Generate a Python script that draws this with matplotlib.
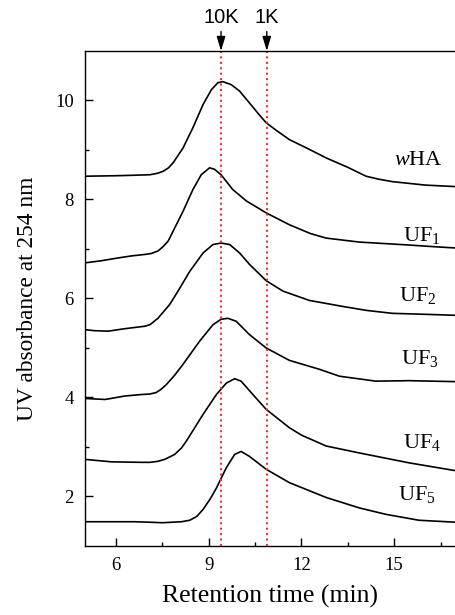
#!/usr/bin/env python3
"""
HPSEC chromatograms of whole humic acid and its ultrafiltration fractions.
"""

import matplotlib

matplotlib.use("Agg")
import matplotlib.pyplot as plt

plt.rcParams["font.family"] = ["Liberation Serif", "DejaVu Serif"]
plt.rcParams["mathtext.fontset"] = "custom"
plt.rcParams["mathtext.rm"] = "Liberation Serif"
plt.rcParams["mathtext.it"] = "Liberation Serif:italic"

# Retention time (min) and stacked UV absorbance
wha_t = [5.0, 6.0, 6.6, 7.1, 7.35, 7.53, 7.7, 7.85, 8.17, 8.49, 8.82, 9.09, 9.30, 9.46, 9.73,
         10.0, 10.32, 10.65, 10.86, 11.18, 11.61, 12.2, 12.8, 13.5, 14.09, 14.5, 14.95, 16.02, 17.0]
wha_a = [8.47, 8.48, 8.49, 8.50, 8.53, 8.57, 8.64, 8.74, 9.04, 9.45, 9.92, 10.22, 10.36, 10.38, 10.32,
         10.19, 9.95, 9.70, 9.55, 9.40, 9.21, 9.03, 8.84, 8.65, 8.47, 8.41, 8.36, 8.29, 8.26]

uf1_t = [5.0, 5.5, 6.08, 6.5, 6.94, 7.15, 7.36, 7.53, 7.69, 7.85, 8.17, 8.49, 8.76, 9.03, 9.19,
         9.40, 9.78, 10.22, 10.86, 11.61, 12.3, 12.8, 13.87, 15.48, 16.45, 17.0]
uf1_a = [6.72, 6.76, 6.82, 6.86, 6.89, 6.91, 6.96, 7.05, 7.16, 7.36, 7.76, 8.20, 8.50, 8.64, 8.61,
         8.50, 8.20, 7.97, 7.73, 7.49, 7.31, 7.22, 7.14, 7.08, 7.04, 7.02]

uf2_t = [5.0, 5.3, 5.75, 6.29, 6.94, 7.1, 7.36, 7.74, 8.01, 8.39, 8.82, 9.14, 9.40, 9.68,
         10.0, 10.32, 10.86, 11.4, 12.26, 12.8, 13.33, 14.1, 14.94, 16.02, 17.0]
uf2_a = [5.37, 5.35, 5.34, 5.39, 5.44, 5.47, 5.60, 5.88, 6.15, 6.55, 6.92, 7.09, 7.12, 7.09,
         6.92, 6.69, 6.36, 6.15, 5.96, 5.90, 5.84, 5.76, 5.70, 5.68, 5.66]

uf3_t = [5.0, 5.65, 6.29, 6.83, 7.1, 7.3, 7.45, 7.63, 7.9, 8.17, 8.71, 9.14, 9.40, 9.62, 9.89,
         10.32, 10.86, 11.61, 12.58, 13.23, 14.41, 15.48, 17.0]
uf3_a = [3.98, 3.96, 4.03, 4.06, 4.07, 4.10, 4.16, 4.26, 4.45, 4.67, 5.14, 5.47, 5.58, 5.60, 5.54,
         5.27, 5.00, 4.75, 4.57, 4.43, 4.33, 4.34, 4.32]

uf4_t = [5.0, 5.86, 6.83, 7.1, 7.35, 7.58, 7.9, 8.12, 8.28, 8.82, 9.25, 9.57, 9.84, 10.05,
         10.43, 10.86, 11.61, 12.0, 12.8, 13.87, 15.48, 17.0]
uf4_a = [2.75, 2.70, 2.69, 2.69, 2.71, 2.75, 2.85, 2.98, 3.12, 3.66, 4.06, 4.29, 4.38, 4.33,
         4.06, 3.76, 3.39, 3.24, 3.02, 2.88, 2.68, 2.52]

uf5_t = [5.0, 6.61, 7.1, 7.5, 8.12, 8.39, 8.62, 8.82, 9.05, 9.25, 9.57, 9.84, 10.05,
         10.32, 10.86, 11.61, 12.8, 13.87, 14.73, 15.8, 17.0]
uf5_a = [1.49, 1.49, 1.48, 1.47, 1.49, 1.52, 1.60, 1.74, 1.95, 2.17, 2.58, 2.85, 2.91,
         2.81, 2.55, 2.28, 1.98, 1.77, 1.64, 1.52, 1.48]

curve_labels = [r"$\mathit{w}$HA", r"UF$_1$", r"UF$_2$", r"UF$_3$", r"UF$_4$", r"UF$_5$"]
label_t = [15.0, 15.27, 15.16, 15.21, 15.27, 15.14]
label_a = [8.69, 7.16, 5.94, 4.67, 2.98, 1.92]

# Molecular weight cut-off markers
cutoff_names = ["10K", "1K"]
cutoff_t = [9.4, 10.88]

x_major = [6, 9, 12, 15]
x_minor = [7.5, 10.5, 13.5, 16.5]
y_major = [2, 4, 6, 8, 10]
y_minor = [3, 5, 7, 9]


def main():
  fig = plt.figure(figsize=(4.56, 6.15), dpi=100)
  ax = fig.add_axes([0.1864, 0.1122, 0.8136, 0.8049])

  curves = [(wha_t, wha_a), (uf1_t, uf1_a), (uf2_t, uf2_a),
            (uf3_t, uf3_a), (uf4_t, uf4_a), (uf5_t, uf5_a)]
  for t, a in curves:
    ax.plot(t, a, color="black", linewidth=1.2, solid_joinstyle="round")

  for name, t, a in zip(curve_labels, label_t, label_a):
    ax.text(t, a, name, fontsize=16, ha="left", va="baseline")

  for name, t in zip(cutoff_names, cutoff_t):
    ax.axvline(t, color="#f03535", linestyle=(0, (1, 1.6)), linewidth=1.5)
    ax.annotate(
      name,
      xy=(t, 11),
      xycoords="data",
      xytext=(0, 17),
      textcoords="offset points",
      ha="center",
      va="bottom",
      fontsize=14.5,
      family=["Liberation Sans", "DejaVu Sans"],
      arrowprops={"arrowstyle": "-|>,head_length=0.6,head_width=0.18", "color": "black",
                  "linewidth": 1.0, "shrinkA": 1, "shrinkB": 0},
      annotation_clip=False,
    )

  ax.set_xlim(5, 17)
  ax.set_ylim(1, 11)
  ax.set_xticks(x_major)
  ax.set_xticks(x_minor, minor=True)
  ax.set_yticks(y_major)
  ax.set_yticks(y_minor, minor=True)
  ax.tick_params(which="both", direction="in", width=1.0, labelsize=13.5, pad=8)
  ax.tick_params(which="major", length=6)
  ax.tick_params(which="minor", length=3)
  ax.tick_params(top=False, right=False, which="both")

  for side in ["left", "bottom", "top"]:
    ax.spines[side].set_linewidth(1.0)
  ax.spines["right"].set_visible(False)

  ax.set_xlabel("Retention time (min)", fontsize=18.5, labelpad=8)
  ax.set_ylabel("UV absorbance at 254 nm", fontsize=16.8, labelpad=12)

  fig.savefig("out.png", dpi=100)


if __name__ == "__main__":
  main()
